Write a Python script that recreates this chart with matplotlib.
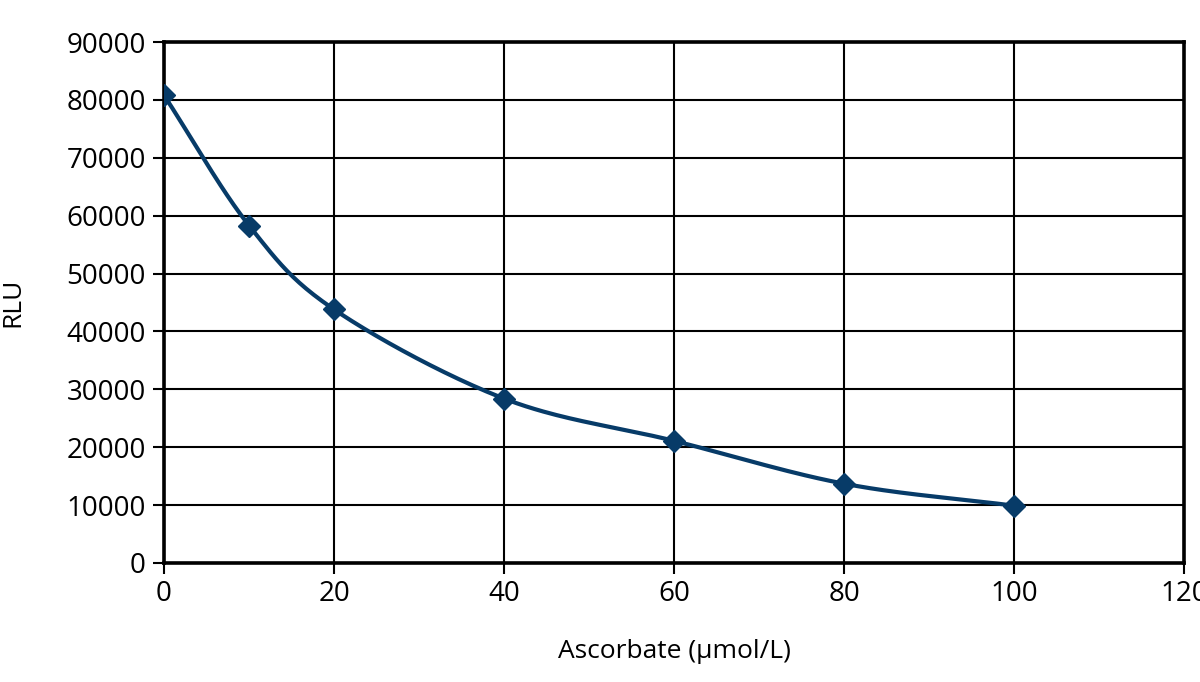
import numpy as np
import matplotlib.pyplot as plt

# data
ascorbate = [0, 10, 20, 40, 60, 80, 100]
rlu = [80800, 58300, 43800, 28400, 21100, 13700, 9900]

x_ticks = list(range(0, 121, 20))
y_ticks = list(range(0, 90001, 10000))

line_color = '#073b68'


def smooth_curve(xs, ys, n=40):
    # Catmull-Rom style smoothing through the points, like a spreadsheet "smoothed line"
    xs = np.asarray(xs, float)
    ys = np.asarray(ys, float)
    px = np.concatenate([[2 * xs[0] - xs[1]], xs, [2 * xs[-1] - xs[-2]]])
    py = np.concatenate([[2 * ys[0] - ys[1]], ys, [2 * ys[-1] - ys[-2]]])
    out_x, out_y = [], []
    t = np.linspace(0, 1, n)
    for i in range(1, len(px) - 2):
        p0, p1, p2, p3 = px[i - 1], px[i], px[i + 1], px[i + 2]
        q0, q1, q2, q3 = py[i - 1], py[i], py[i + 1], py[i + 2]
        # cubic Bezier with tangents (p2-p0)/6
        c1x, c1y = p1 + (p2 - p0) / 6, q1 + (q2 - q0) / 6
        c2x, c2y = p2 - (p3 - p1) / 6, q2 - (q3 - q1) / 6
        bx = (1 - t) ** 3 * p1 + 3 * (1 - t) ** 2 * t * c1x + 3 * (1 - t) * t ** 2 * c2x + t ** 3 * p2
        by = (1 - t) ** 3 * q1 + 3 * (1 - t) ** 2 * t * c1y + 3 * (1 - t) * t ** 2 * c2y + t ** 3 * q2
        out_x.extend(bx)
        out_y.extend(by)
    return np.array(out_x), np.array(out_y)


plt.rcParams['font.family'] = ['Open Sans', 'DejaVu Sans']

fig = plt.figure(figsize=(12, 6.82), dpi=100)
ax = fig.add_axes([0.1367, 0.1745, 0.85, 0.7639])

cx, cy = smooth_curve(ascorbate, rlu)
ax.plot(cx, cy, color=line_color, lw=3, solid_capstyle='round', zorder=3)
ax.plot(ascorbate, rlu, linestyle='none', marker='D', ms=11.5, color=line_color, zorder=4)

ax.set_xlim(0, 120)
ax.set_ylim(0, 90000)
ax.set_xticks(x_ticks)
ax.set_yticks(y_ticks)
ax.grid(True, color='black', lw=1.5)
ax.set_axisbelow(True)

for sp in ax.spines.values():
    sp.set_linewidth(2.6)
    sp.set_color('black')

ax.tick_params(axis='both', direction='out', length=8, width=1.5, labelsize=20, colors='black')
ax.tick_params(axis='y', pad=5)
ax.tick_params(axis='x', pad=4)

ax.set_xlabel('Ascorbate (µmol/L)', fontsize=19)
ax.set_ylabel('RLU', fontsize=19)
ax.xaxis.set_label_coords(0.5, -0.145)
ax.yaxis.set_label_coords(-0.136, 0.5)

fig.savefig('out.png', dpi=100)
